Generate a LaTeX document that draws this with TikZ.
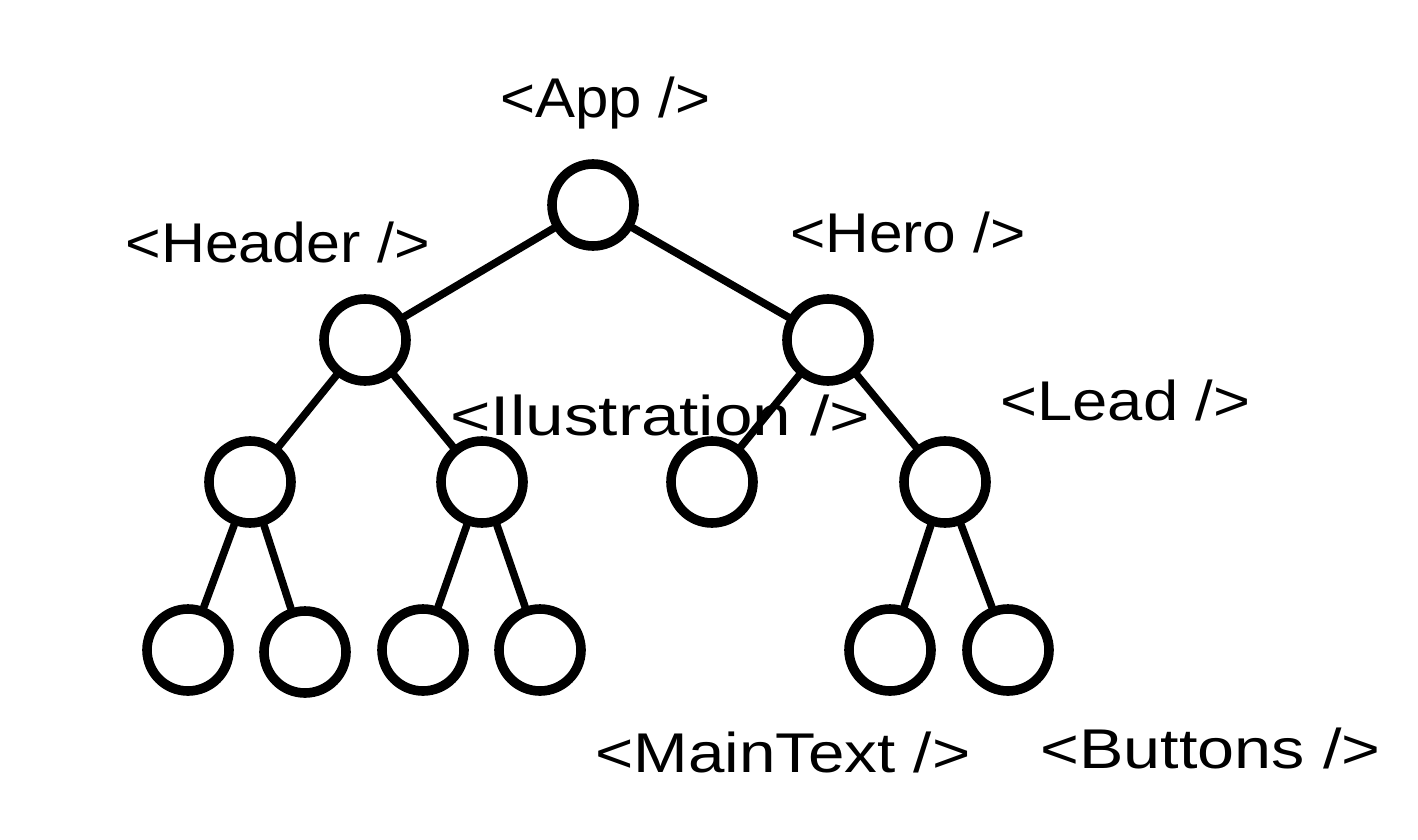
\documentclass[tikz,border=0pt]{standalone}
\usepackage{fontspec}
\setmainfont{Liberation Sans}
\newcommand{\wlab}[2]{\resizebox{#1pt}{\height}{#2}}
\begin{document}
\begin{tikzpicture}[x=0.5pt,y=-0.5pt,
  vert/.style={circle,draw=black,line width=4.8pt,minimum size=41pt,inner sep=0pt,fill=none},
  edge/.style={line width=3.8pt,black,line cap=round},
  lbl/.style={anchor=base west,inner sep=0pt,font=\fontsize{28}{31}\selectfont}]
\useasboundingbox (0,0) rectangle (1418,840);
% vertices
\node[vert] (app) at (593,205) {};
\node[vert] (header) at (365,340) {};
\node[vert] (hero) at (828,340) {};
\node[vert] (a) at (250,482) {};
\node[vert] (b) at (482,482) {};
\node[vert] (c) at (712,482) {};
\node[vert] (d) at (945,482) {};
\node[vert] (a1) at (188,650) {};
\node[vert] (a2) at (305,652) {};
\node[vert] (b1) at (423,650) {};
\node[vert] (b2) at (540,650) {};
\node[vert] (d1) at (890,650) {};
\node[vert] (d2) at (1008,650) {};
% edges
\draw[edge] (app) -- (header);
\draw[edge] (app) -- (hero);
\draw[edge] (header) -- (a);
\draw[edge] (header) -- (b);
\draw[edge] (hero) -- (c);
\draw[edge] (hero) -- (d);
\draw[edge] (a) -- (a1);
\draw[edge] (a) -- (a2);
\draw[edge] (b) -- (b1);
\draw[edge] (b) -- (b2);
\draw[edge] (d) -- (d1);
\draw[edge] (d) -- (d2);
% labels
\node[lbl] (lapp) at (500,118) {\wlab{105}{<App />}};
\node[lbl] (lheader) at (125,262) {\wlab{152.5}{<Header />}};
\node[lbl] (lhero) at (790,252) {\wlab{117.5}{<Hero />}};
\node[lbl] (lill) at (450,435) {\wlab{210}{<Ilustration />}};
\node[lbl] (llead) at (1000,420) {\wlab{125}{<Lead />}};
\node[lbl] (lmain) at (595,772) {\wlab{187.5}{<MainText />}};
\node[lbl] (lbtn) at (1040,768) {\wlab{170}{<Buttons />}};
\end{tikzpicture}
\end{document}
